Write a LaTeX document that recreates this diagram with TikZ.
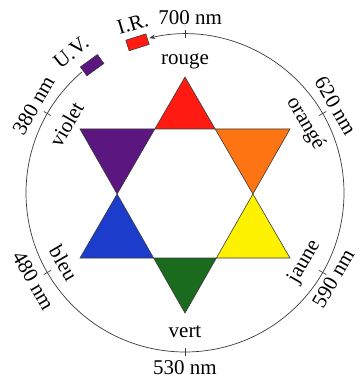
\documentclass[tikz,border=0pt]{standalone}
\usepackage{fontspec}
\setmainfont{Liberation Serif}
\usetikzlibrary{arrows.meta}
\definecolor{csRed}{HTML}{FF1A12}
\definecolor{csOrange}{HTML}{FF7412}
\definecolor{csYellow}{HTML}{FFF200}
\definecolor{csGreen}{HTML}{1B6B1E}
\definecolor{csBlue}{HTML}{1C3DCC}
\definecolor{csViolet}{HTML}{5B167F}
\definecolor{csLine}{HTML}{3A3A3A}
\tikzset{
  wedge/.style={draw=csLine, line width=0.6pt, line join=miter},
  ring/.style={draw=csLine, line width=0.7pt},
  tickmark/.style={draw=csLine, line width=0.7pt},
  colname/.style={font=\fontsize{21}{21}\selectfont, inner sep=0pt},
  wavelen/.style={font=\fontsize{21}{21}\selectfont, inner sep=0pt},
  band/.style={draw=csLine, line width=0.6pt, minimum width=21pt, minimum height=11pt, inner sep=0pt},
  spec/.style={ring, -{Stealth[length=6pt, width=4.5pt]}}
}

\begin{document}
\begin{tikzpicture}[x=1pt, y=1pt]
  \useasboundingbox (-185,-192) rectangle (175,193);

  % the two big triangles of the star
  \coordinate (t1) at (0,116);
  \coordinate (l1) at (-105,-65);
  \coordinate (r1) at (105,-65);
  \coordinate (t2) at (0,-120);
  \coordinate (l2) at (-105,64);
  \coordinate (r2) at (105,64);
  % inner hexagon
  \coordinate (ia) at (intersection of t1--l1 and l2--r2);
  \coordinate (ib) at (intersection of t1--r1 and l2--r2);
  \coordinate (ic) at (intersection of t1--r1 and r2--t2);
  \coordinate (id) at (intersection of l1--r1 and r2--t2);
  \coordinate (ie) at (intersection of l1--r1 and l2--t2);
  \coordinate (if) at (intersection of t1--l1 and l2--t2);

  \filldraw[wedge, fill=csRed]    (t1) -- (ia) -- (ib) -- cycle;
  \filldraw[wedge, fill=csOrange] (r2) -- (ib) -- (ic) -- cycle;
  \filldraw[wedge, fill=csYellow] (r1) -- (ic) -- (id) -- cycle;
  \filldraw[wedge, fill=csGreen]  (t2) -- (id) -- (ie) -- cycle;
  \filldraw[wedge, fill=csBlue]   (l1) -- (ie) -- (if) -- cycle;
  \filldraw[wedge, fill=csViolet] (l2) -- (if) -- (ia) -- cycle;

  % spectrum circle
  \node[band, fill=csViolet, rotate=36] (uv) at (126:158) {};
  \node[band, fill=csRed, rotate=17.5] (ir) at (107.5:158) {};
  \node[wavelen, rotate=38.7] (uvlab) at (129:181) {U.V.};
  \node[wavelen, rotate=17] (irlab) at (107.2:177) {I.R.};
  \coordinate (arcstart) at (130.5:159);
  \draw[spec] (arcstart) arc[start angle=130.5, end angle=463, radius=159];

  \foreach \ang/\cname/\crad/\wang/\wrad/\wl/\rot in {
      90/rouge/132/88.3/175/700 nm/0, 30/orangé/139/30/174/620 nm/-60,
      330/jaune/138/330/171/590 nm/60, 270/vert/139/270/175/530 nm/0,
      210/bleu/140/210/175/480 nm/-60, 150/violet/137/150/175/380 nm/60}{
    \draw[tickmark] (\ang:155) -- (\ang:163);
    \node[colname, rotate=\rot] (c-\ang) at (\ang:\crad) {\cname};
    \node[wavelen, rotate=\rot] (w-\ang) at (\wang:\wrad) {\wl};
  }
\end{tikzpicture}
\end{document}
